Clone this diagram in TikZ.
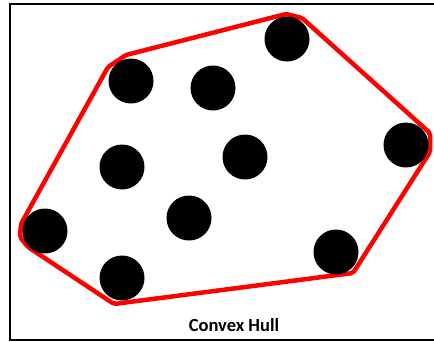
\documentclass[tikz,border=0pt]{standalone}
\usepackage{fontspec}
\setmainfont{Carlito}
\begin{document}
\begin{tikzpicture}[x=1pt,y=-1pt,
  dot/.style={circle,fill=black,minimum size=45pt,inner sep=0pt},
  hull/.style={draw=red,line width=4.5pt,line join=round,rounded corners=2pt},
  frame/.style={draw=black,line width=1.8pt}]
\useasboundingbox (0,0) rectangle (434,341);
\draw[frame] (440,4) -- (10,4) -- (10,340) -- (440,340);
% hull vertices
\coordinate (h1) at (126,55);
\coordinate (h2) at (286,14);
\coordinate (h3) at (302,18);
\coordinate (h4) at (430,133);
\coordinate (h5) at (430,152);
\coordinate (h6) at (353,273);
\coordinate (h7) at (114,304);
\coordinate (h8) at (28,247);
\coordinate (h9) at (20,237);
\coordinate (h10) at (21,224);
\coordinate (h11) at (108,67);
\draw[hull] (h1) -- (h2) -- (h3) -- (h4) -- (h5) -- (h6) -- (h7) -- (h8) -- (h9) -- (h10) -- (h11) -- cycle;
\node[dot] (p1) at (287,39) {};
\node[dot] (p2) at (131,81) {};
\node[dot] (p3) at (213,88) {};
\node[dot] (p4) at (406,145) {};
\node[dot] (p5) at (122,167) {};
\node[dot] (p6) at (245,157) {};
\node[dot] (p7) at (189,218) {};
\node[dot] (p8) at (45,231) {};
\node[dot] (p9) at (122,278) {};
\node[dot] (p10) at (336,252) {};
\node[font=\fontsize{18.5}{20}\selectfont\bfseries] (cap) at (234,325) {Convex Hull};
\end{tikzpicture}
\end{document}
